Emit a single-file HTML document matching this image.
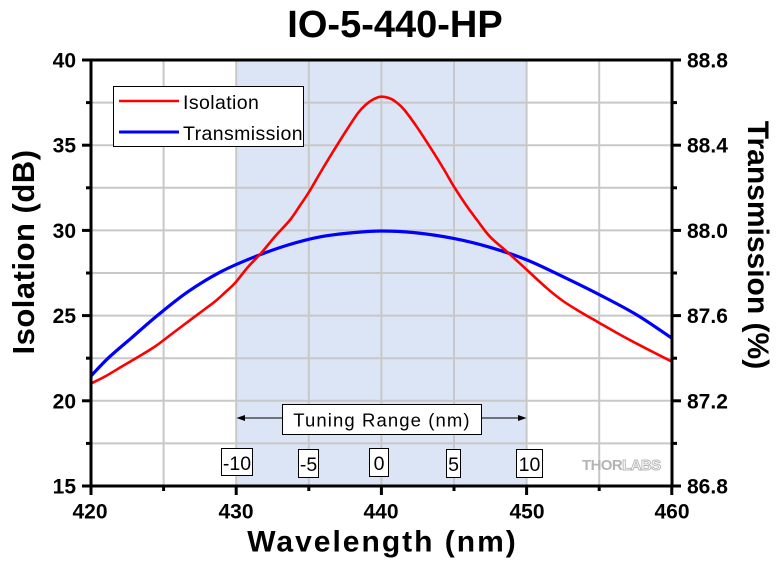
<!DOCTYPE html>
<html>
<head>
<meta charset="utf-8">
<style>
html,body{margin:0;padding:0;background:#fff;}
svg{display:block;}
text{font-family:"Liberation Sans",Arial,sans-serif;}
</style>
</head>
<body>
<svg id="chart" width="780" height="561" viewBox="0 0 780 561" xmlns="http://www.w3.org/2000/svg">
  <rect x="0" y="0" width="780" height="561" fill="#fff"/>
  <rect x="236.2" y="60" width="290.4" height="426" fill="#dce5f5"/>
  <g stroke="#c8c8c8" stroke-width="2">
    <line x1="163.6" y1="60" x2="163.6" y2="486"/>
    <line x1="236.2" y1="60" x2="236.2" y2="486"/>
    <line x1="308.8" y1="60" x2="308.8" y2="486"/>
    <line x1="381.4" y1="60" x2="381.4" y2="486"/>
    <line x1="454" y1="60" x2="454" y2="486"/>
    <line x1="526.6" y1="60" x2="526.6" y2="486"/>
    <line x1="599.2" y1="60" x2="599.2" y2="486"/>
    <line x1="91" y1="102.6" x2="672" y2="102.6"/>
    <line x1="91" y1="145.2" x2="672" y2="145.2"/>
    <line x1="91" y1="187.8" x2="672" y2="187.8"/>
    <line x1="91" y1="230.4" x2="672" y2="230.4"/>
    <line x1="91" y1="273" x2="672" y2="273"/>
    <line x1="91" y1="315.6" x2="672" y2="315.6"/>
    <line x1="91" y1="358.2" x2="672" y2="358.2"/>
    <line x1="91" y1="400.8" x2="672" y2="400.8"/>
    <line x1="91" y1="443.4" x2="672" y2="443.4"/>
  </g>

  <line x1="240" y1="418" x2="282" y2="418" stroke="#000" stroke-width="1"/>
  <polygon points="236.5,418 245,415 245,421" fill="#000"/>
  <line x1="482" y1="418" x2="522" y2="418" stroke="#000" stroke-width="1"/>
  <polygon points="526.5,418 518,415 518,421" fill="#000"/>
  <rect x="282.5" y="404.5" width="199" height="30" fill="#fff" stroke="#000" stroke-width="1"/>
  <text x="382" y="426.5" font-size="18.5" text-anchor="middle" letter-spacing="1.1">Tuning Range (nm)</text>

  <g font-size="19.5" text-anchor="middle">
    <rect x="221.5" y="448.5" width="31" height="27" fill="#fff" stroke="#000" stroke-width="1"/>
    <text x="237" y="470">-10</text>
    <rect x="298.5" y="449.5" width="20" height="28" fill="#fff" stroke="#000" stroke-width="1"/>
    <text x="308.5" y="471">-5</text>
    <rect x="369.5" y="448.5" width="19" height="28" fill="#fff" stroke="#000" stroke-width="1"/>
    <text x="379" y="470">0</text>
    <rect x="446.5" y="449.5" width="14" height="28" fill="#fff" stroke="#000" stroke-width="1"/>
    <text x="453.5" y="471">5</text>
    <rect x="516.5" y="449.5" width="26" height="28" fill="#fff" stroke="#000" stroke-width="1"/>
    <text x="529.5" y="471">10</text>
  </g>

  <text x="582" y="470" font-size="15" font-weight="bold" letter-spacing="-0.6"><tspan fill="#b4b4b4">THOR</tspan><tspan fill="#fff" stroke="#b4b4b4" stroke-width="0.9">LABS</tspan></text>

  <polyline id="blueLine" fill="none" stroke="#0000ff" stroke-width="3.2" stroke-linejoin="round"
    points="91,376 108,358.3 131,338.3 158,315 188,291.7 221,271.7 255,256.7 288,245 321,236.7 355,232.5 381,231 413,232.5 453,238.3 490,247.3 527,260 563,276.7 600,295 637,315 672,338.3"/>
  <polyline id="redLine" fill="none" stroke="#ff0000" stroke-width="2.6" stroke-linejoin="round"
    points="91,383.5 105,376.5 121,367 138,357 155,346.5 171,334.5 188,321.7 205,309 215,301.5 225,292.5 235,283 248,267 261,253.3 275,236.5 290,220 300,205.5 309,192 321,171.5 333,151.7 346,131 358,113 366,104.5 373,99.5 381,96.7 389,98 396,102 404,109.5 416.7,126.7 433,151.7 444,169.5 454,186.7 466,205 477,220 490,236.7 507,251.7 527,270 547,288.3 563,301 580,311.7 599,322.7 617,333 633,341.7 652,351.5 672,361.7"/>

  <rect x="113.5" y="86.5" width="190" height="60" fill="#fff" stroke="#000" stroke-width="1"/>
  <line x1="119" y1="101" x2="179" y2="101" stroke="#ff0000" stroke-width="2.6"/>
  <line x1="119" y1="132" x2="179" y2="132" stroke="#0000ff" stroke-width="3"/>
  <text x="183" y="109" font-size="19.5" letter-spacing="0.4">Isolation</text>
  <text x="183" y="140" font-size="19.5" letter-spacing="0.4">Transmission</text>

  <rect x="91" y="60" width="581" height="426" fill="none" stroke="#000" stroke-width="3"/>
  <g stroke="#000" stroke-width="3">
    <line x1="82" y1="60" x2="91" y2="60"/>
    <line x1="82" y1="145.2" x2="91" y2="145.2"/>
    <line x1="82" y1="230.4" x2="91" y2="230.4"/>
    <line x1="82" y1="315.6" x2="91" y2="315.6"/>
    <line x1="82" y1="400.8" x2="91" y2="400.8"/>
    <line x1="82" y1="486" x2="91" y2="486"/>
    <line x1="86" y1="102.6" x2="91" y2="102.6"/>
    <line x1="86" y1="187.8" x2="91" y2="187.8"/>
    <line x1="86" y1="273" x2="91" y2="273"/>
    <line x1="86" y1="358.2" x2="91" y2="358.2"/>
    <line x1="86" y1="443.4" x2="91" y2="443.4"/>
    <line x1="672" y1="60" x2="681" y2="60"/>
    <line x1="672" y1="145.2" x2="681" y2="145.2"/>
    <line x1="672" y1="230.4" x2="681" y2="230.4"/>
    <line x1="672" y1="315.6" x2="681" y2="315.6"/>
    <line x1="672" y1="400.8" x2="681" y2="400.8"/>
    <line x1="672" y1="486" x2="681" y2="486"/>
    <line x1="672" y1="102.6" x2="677" y2="102.6"/>
    <line x1="672" y1="187.8" x2="677" y2="187.8"/>
    <line x1="672" y1="273" x2="677" y2="273"/>
    <line x1="672" y1="358.2" x2="677" y2="358.2"/>
    <line x1="672" y1="443.4" x2="677" y2="443.4"/>
    <line x1="91" y1="486" x2="91" y2="495"/>
    <line x1="236.2" y1="486" x2="236.2" y2="495"/>
    <line x1="381.4" y1="486" x2="381.4" y2="495"/>
    <line x1="526.6" y1="486" x2="526.6" y2="495"/>
    <line x1="671.8" y1="486" x2="671.8" y2="495"/>
    <line x1="163.6" y1="486" x2="163.6" y2="491"/>
    <line x1="308.8" y1="486" x2="308.8" y2="491"/>
    <line x1="454" y1="486" x2="454" y2="491"/>
    <line x1="599.2" y1="486" x2="599.2" y2="491"/>
  </g>

  <g font-size="21" font-weight="bold" text-anchor="end">
    <text x="76" y="67.5">40</text>
    <text x="76" y="152.7">35</text>
    <text x="76" y="237.9">30</text>
    <text x="76" y="323.1">25</text>
    <text x="76" y="408.3">20</text>
    <text x="76" y="493.5">15</text>
  </g>
  <g font-size="21" font-weight="bold" text-anchor="start">
    <text x="687" y="67.5">88.8</text>
    <text x="687" y="152.7">88.4</text>
    <text x="687" y="237.9">88.0</text>
    <text x="687" y="323.1">87.6</text>
    <text x="687" y="408.3">87.2</text>
    <text x="687" y="493.5">86.8</text>
  </g>
  <g font-size="21" font-weight="bold" text-anchor="middle">
    <text x="90" y="518.5">420</text>
    <text x="236" y="518.5">430</text>
    <text x="381" y="518.5">440</text>
    <text x="527" y="518.5">450</text>
    <text x="672" y="518.5">460</text>
  </g>

  <text x="395" y="37" font-size="38" font-weight="bold" text-anchor="middle">IO-5-440-HP</text>
  <text x="382.5" y="551.5" font-size="30" font-weight="bold" text-anchor="middle" letter-spacing="2">Wavelength (nm)</text>
  <text transform="translate(34,252) rotate(-90)" font-size="31" font-weight="bold" text-anchor="middle" letter-spacing="0.5">Isolation (dB)</text>
  <text transform="translate(748,245) rotate(90)" font-size="30" font-weight="bold" text-anchor="middle">Transmission (%)</text>
</svg>
<script>
(function(){
  var NS="http://www.w3.org/2000/svg";
  function smooth(id){
    var pl=document.getElementById(id);
    if(!pl) return;
    var raw=pl.getAttribute("points").trim().split(/\s+/).map(function(s){var a=s.split(",");return [parseFloat(a[0]),parseFloat(a[1])];});
    var n=raw.length;
    var d="M"+raw[0][0]+","+raw[0][1];
    for(var i=0;i<n-1;i++){
      var p0=raw[i>0?i-1:i],p1=raw[i],p2=raw[i+1],p3=raw[i+2<n?i+2:i+1];
      var c1x=p1[0]+(p2[0]-p0[0])/6,c1y=p1[1]+(p2[1]-p0[1])/6;
      var c2x=p2[0]-(p3[0]-p1[0])/6,c2y=p2[1]-(p3[1]-p1[1])/6;
      d+=" C"+c1x.toFixed(2)+","+c1y.toFixed(2)+" "+c2x.toFixed(2)+","+c2y.toFixed(2)+" "+p2[0]+","+p2[1];
    }
    var path=document.createElementNS(NS,"path");
    path.setAttribute("d",d);
    path.setAttribute("fill","none");
    path.setAttribute("stroke",pl.getAttribute("stroke"));
    path.setAttribute("stroke-width",pl.getAttribute("stroke-width"));
    path.setAttribute("stroke-linejoin","round");
    pl.parentNode.insertBefore(path,pl);
    pl.parentNode.removeChild(pl);
  }
  try{smooth("blueLine");smooth("redLine");}catch(e){}
})();
</script>
</body>
</html>
